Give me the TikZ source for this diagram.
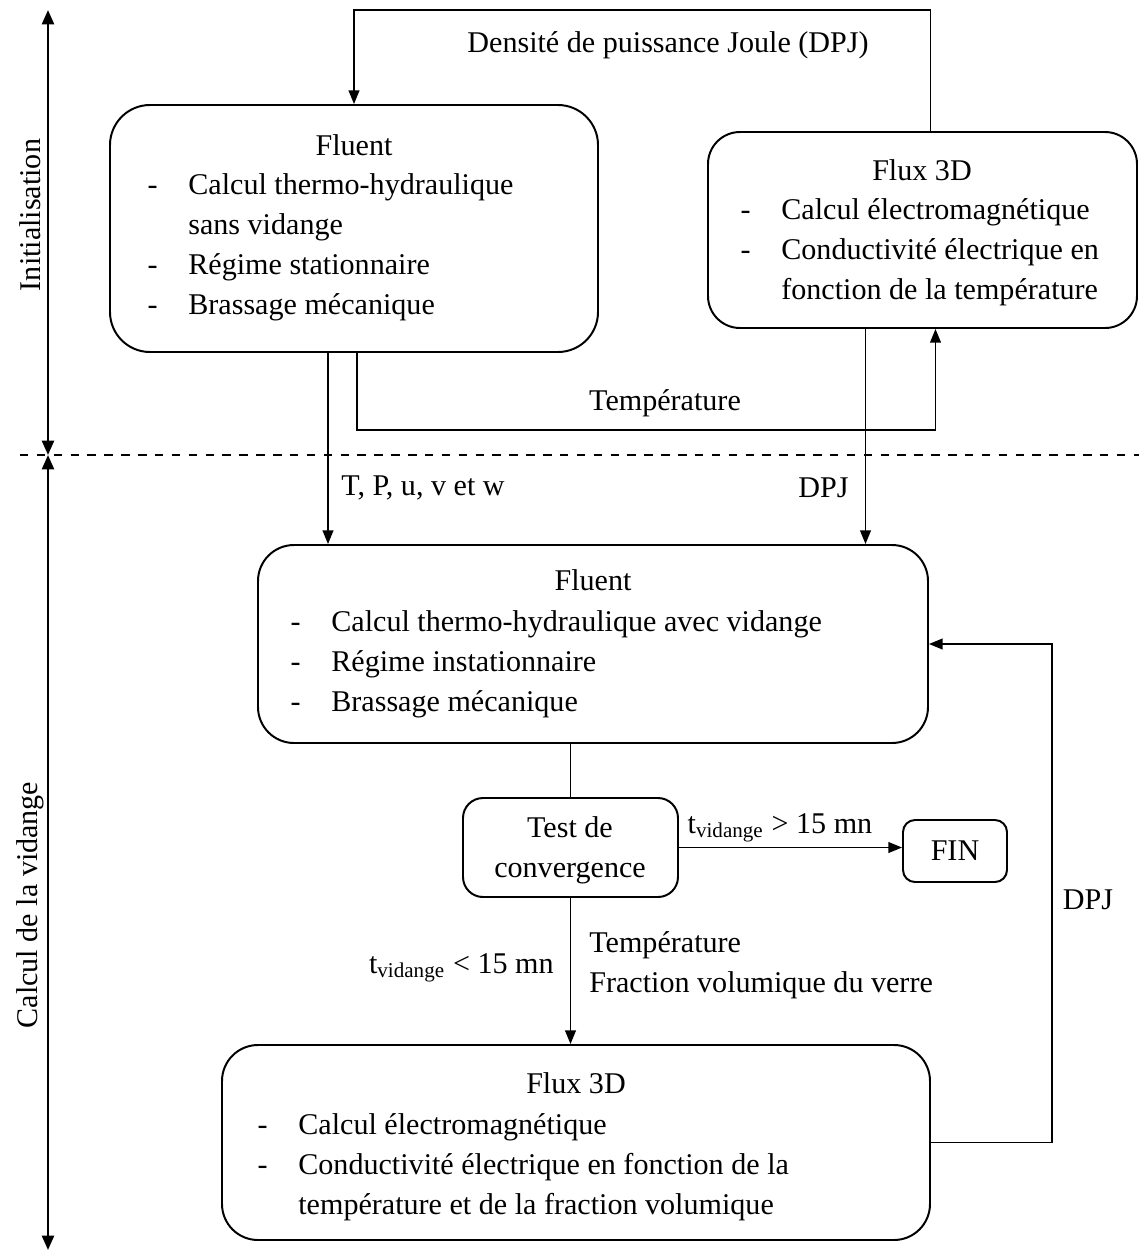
\documentclass[tikz,border=0pt]{standalone}
\usepackage{fontspec}
\setmainfont{Liberation Serif}
\usepackage{tikz}
\usetikzlibrary{arrows.meta,positioning,calc,fit}
\newcommand{\itm}{\makebox[0.51cm][l]{-}}
\newcommand{\cnt}{\makebox[0.51cm][l]{}}

\begin{document}
\begin{tikzpicture}[
    x=0.0125cm, y=-0.0125cm,
    font=\fontsize{10.7}{14.2}\selectfont,
    box/.style={draw, rounded corners=#1, inner sep=0pt, line width=0.7pt},
    list/.style={anchor=north west, align=left, inner sep=0pt},
    lbl/.style={inner sep=1pt},
    arr/.style={-{Triangle[length=1.7mm, width=1.35mm]}, line width=0.5pt},
    axis/.style={{Triangle[length=1.8mm, width=1.5mm]}-{Triangle[length=1.8mm, width=1.5mm]}, line width=0.9pt},
]
    \useasboundingbox (0,0) rectangle (1139,1254);

    % phases on the left
    \coordinate (axtop) at (48,10);
    \coordinate (axmid) at (48,455);
    \coordinate (axbot) at (48,1250);
    \coordinate (dl) at (20,455);
    \coordinate (dr) at (1139,455);
    \draw[axis] (axtop) -- (axmid);
    \draw[axis] (axmid) -- (axbot);
    \draw[dashed, line width=0.5pt] (dl) -- (dr);
    \node[rotate=90] (init) at (30,215) {Initialisation};
    \node[rotate=90] (vid) at (30,905) {Calcul de la vidange};

    % initialisation
    \node[box=5mm, fit={(110,105) (598,352)}] (fluentA) {};
    \node (fluentAt) at (354,145) {Fluent};
    \node[list] (fluentAl) at (147,173) {\itm Calcul thermo-hydraulique\\ \cnt sans vidange\\ \itm Régime stationnaire\\ \itm Brassage mécanique};

    \node[box=4mm, fit={(708,132) (1137,328)}] (fluxA) {};
    \node (fluxAt) at (922,170) {Flux 3D};
    \node[list] (fluxAl) at (740,198) {\itm Calcul électromagnétique\\ \itm Conductivité électrique en\\ \cnt fonction de la température};

    % vidange
    \node[box=4.5mm, fit={(258,545) (928,743)}] (fluentB) {};
    \node (fluentBt) at (593,580) {Fluent};
    \node[list] (fluentBl) at (290,610) {\itm Calcul thermo-hydraulique avec vidange\\ \itm Régime instationnaire\\ \itm Brassage mécanique};

    \node[box=2.5mm, fit={(463,798) (678,897)}] (test) {};
    \node[align=center] (testt) at (570,850) {Test de\\convergence};
    \node[box=1.5mm, fit={(903,820) (1007,882)}] (fin) {};
    \node (fint) at (fin.center) {FIN};

    \node[box=4.5mm, fit={(222,1045) (930,1240)}] (fluxB) {};
    \node (fluxBt) at (576,1083) {Flux 3D};
    \node[list] (fluxBl) at (257,1113) {\itm Calcul électromagnétique\\ \itm Conductivité électrique en fonction de la\\ \cnt température et de la fraction volumique};

    % connecteurs
    \coordinate (jtop) at (640,10);
    \coordinate (jtemp) at (640,430);
    \coordinate (jdpj) at (1052,900);
    \coordinate (dpjtop) at ($(fluxA.north)+(8,0)$);
    \coordinate (tempA) at ($(fluentA.south)+(3,0)$);
    \coordinate (tempB) at ($(fluxA.south)+(13,0)$);
    \coordinate (tpu) at ($(fluentA.south)+(-26,0)$);
    \coordinate (dpjA) at ($(fluxA.south)+(-57,0)$);

    \draw[arr] (dpjtop) |- (jtop) -| (fluentA.north);
    \draw[arr] (tempA) |- (jtemp) -| (tempB);
    \draw[arr] (tpu) -- (tpu |- fluentB.north);
    \draw[arr] (dpjA) -- (dpjA |- fluentB.north);
    \draw[line width=0.5pt] (test.north |- fluentB.south) -- (test.north);
    \draw[arr] (test.east) -- (test.east -| fin.west);
    \draw[arr] (test.south) -- (test.south |- fluxB.north);
    \draw[arr] (fluxB.east) -| (jdpj) |- (fluentB.east);

    \node[lbl] (dpjlbl) at (668,45) {Densité de puissance Joule (DPJ)};
    \node[lbl] (templbl) at (665,403) {Température};
    \node[lbl, anchor=west] (tpulbl) at (338,488) {T, P, u, v et w};
    \node[lbl, anchor=east] (dpjlblA) at (852,488) {DPJ};
    \node[lbl] (suplbl) at (780,828) {t\textsubscript{vidange} > 15 mn};
    \node[lbl, anchor=east] (inflbl) at (557,968) {t\textsubscript{vidange} < 15 mn};
    \node[lbl, anchor=west, align=left] (tfvlbl) at (586,965) {Température\\Fraction volumique du verre};
    \node[lbl] (dpjlblB) at (1088,900) {DPJ};
\end{tikzpicture}
\end{document}
